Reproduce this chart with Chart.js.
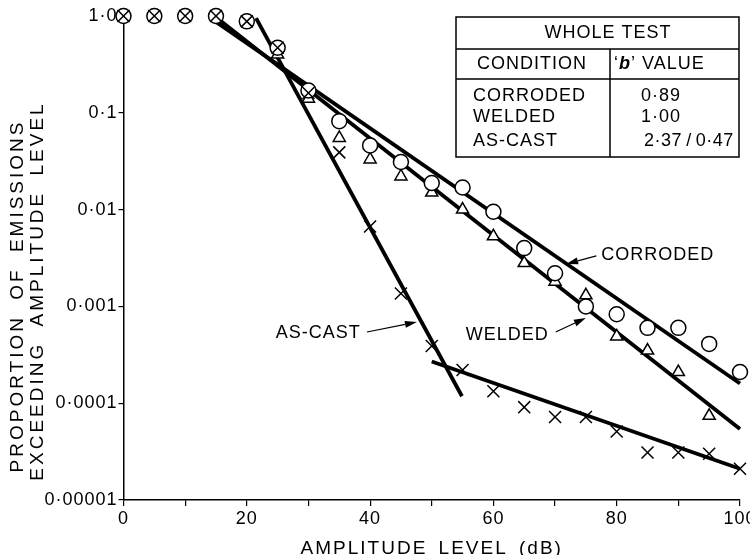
<!DOCTYPE html>
<html><head><meta charset="utf-8">
<script src="https://cdn.jsdelivr.net/npm/chart.js@4.4.1/dist/chart.umd.min.js"></script>
<style>html,body{margin:0;padding:0;background:#fff;}#wrap{width:750px;height:555px;}</style>
</head><body><div id="wrap"><canvas id="c" width="750" height="555"></canvas></div>
<script>
// ---- data ----
const amplitude = [0,5,10,15,20,25,30,35,40,45,50,55,60,65,70,75,80,85,90,95,100];
const corroded = [1,1,1,1,0.88,0.47,0.17,0.082,0.046,0.031,0.0188,0.0169,0.0095,0.0040,0.0022,0.0010,0.00083,0.0006,0.0006,0.00041,0.00021];
const welded   = [1,1,1,1,0.88,0.40,0.14,0.055,0.033,0.022,0.015,0.010,0.0053,0.0028,0.0018,0.0013,0.00049,0.00035,0.00021,0.000074,null];
const asCast   = [1,1,1,1,0.88,0.47,0.16,0.039,0.0067,0.00136,0.00039,0.00022,0.000133,0.000091,0.000072,0.000072,0.000051,0.000031,0.000031,0.00003,0.000021];

const corrodedFitX = [15,100], corrodedFitY = [0.87,0.00016];
const weldedFitX   = [15,100], weldedFitY   = [0.97,0.000054];
const asCastFit1X  = [21.5,54.9], asCastFit1Y = [0.95,0.000118];
const asCastFit2X  = [50,100], asCastFit2Y = [0.00027,0.000021];

const xTickValues = [0,10,20,30,40,50,60,70,80,90,100];
const xTickLabels = ['0','','20','','40','','60','','80','','100'];
const yTickValues = [0.00001,0.0001,0.001,0.01,0.1,1];
const yTickLabels = ['0·00001','0·0001','0·001','0·01','0·1','1·0'];

const xTitle = 'AMPLITUDE LEVEL (dB)';
const yTitle = ['PROPORTION OF EMISSIONS','EXCEEDING AMPLITUDE LEVEL'];

const annText  = ['CORRODED','WELDED','AS-CAST'];
const annX     = [77.5,55.5,38.5];
const annY     = [0.00343,0.000507,0.000531];
const annAlign = ['left','left','right'];
const arrowFromX = [76.7,70.1,39.5], arrowFromY = [0.00332,0.000544,0.000544];
const arrowToX   = [71.8,75.0,47.6], arrowToY   = [0.00274,0.000759,0.00069];

const tableTitle = 'WHOLE TEST';
const tableHead = ['CONDITION',' VALUE'];
const tableConditions = ['CORRODED','WELDED','AS-CAST'];
const tableValues = ['0·89','1·00','2·37\u2009/\u20090·47'];

// ---- helpers ----
const pts = ys => amplitude.map((x,i)=>({x, y: ys[i]})).filter(p=>p.y!=null);
const fit = (xs,ys) => xs.map((x,i)=>({x, y: ys[i]}));
const FONT = '"Liberation Sans", Arial, sans-serif';

const lineDs = (d) => ({data:d, showLine:true, borderColor:'#000', borderWidth:3.8, pointRadius:0, order:10, clip:false, borderCapStyle:'butt'});

const annotPlugin = {
  id:'annot',
  beforeDraw(chart){ chart.ctx.letterSpacing = '1px'; },
  afterDraw(chart){
    const {ctx, scales:{x,y}} = chart;
    ctx.save();
    ctx.fillStyle='#000'; ctx.strokeStyle='#000';
    // annotations
    ctx.font = '18px '+FONT;
    ctx.letterSpacing = '1px';
    ctx.textBaseline='middle';
    annText.forEach((t,i)=>{
      ctx.textAlign = annAlign[i];
      ctx.fillText(t, x.getPixelForValue(annX[i]), y.getPixelForValue(annY[i]));
      const x1=x.getPixelForValue(arrowFromX[i]), y1=y.getPixelForValue(arrowFromY[i]);
      const x2=x.getPixelForValue(arrowToX[i]), y2=y.getPixelForValue(arrowToY[i]);
      const a=Math.atan2(y2-y1,x2-x1), L=12, W=3.5;
      ctx.lineWidth=1.2;
      ctx.beginPath(); ctx.moveTo(x1,y1); ctx.lineTo(x2-L*Math.cos(a),y2-L*Math.sin(a)); ctx.stroke();
      ctx.beginPath(); ctx.moveTo(x2,y2);
      ctx.lineTo(x2-L*Math.cos(a)+W*Math.sin(a), y2-L*Math.sin(a)-W*Math.cos(a));
      ctx.lineTo(x2-L*Math.cos(a)-W*Math.sin(a), y2-L*Math.sin(a)+W*Math.cos(a));
      ctx.closePath(); ctx.fill();
    });
    // table
    const ca = chart.chartArea;
    const tx = ca.right-284, ty = ca.top+1, tw = 283, th = 140;
    const colX = tx+154, r1 = ty+32, r2 = ty+62;
    ctx.lineWidth = 1.5;
    ctx.strokeRect(tx,ty,tw,th);
    ctx.beginPath(); ctx.moveTo(tx,r1); ctx.lineTo(tx+tw,r1);
    ctx.moveTo(tx,r2); ctx.lineTo(tx+tw,r2);
    ctx.moveTo(colX,r1); ctx.lineTo(colX,ty+th); ctx.stroke();
    ctx.textAlign='center';
    ctx.fillText(tableTitle, tx+152, ty+16);
    ctx.textAlign='left';
    ctx.fillText(tableHead[0], tx+21, ty+47);
    // 'b' VALUE header
    let hx = colX+4;
    ctx.fillText('‘', hx, ty+47); hx += ctx.measureText('‘').width;
    ctx.font = 'italic bold 18px '+FONT;
    ctx.fillText('b', hx, ty+47); hx += ctx.measureText('b').width;
    ctx.font = '18px '+FONT;
    ctx.fillText('’'+tableHead[1], hx, ty+47);
    const rowY = [ty+79, ty+100, ty+124];
    tableConditions.forEach((t,i)=>{
      ctx.textAlign='left';
      ctx.letterSpacing = '1px';
      ctx.fillText(t, tx+17, rowY[i]);
      if (i<2) { ctx.textAlign='center'; ctx.fillText(tableValues[i], colX+51, rowY[i]); }
      else { ctx.letterSpacing='0.5px'; ctx.fillText(tableValues[i], colX+34, rowY[i]); }
    });
    // axis titles
    ctx.font = '19px '+FONT;
    ctx.letterSpacing = '2px'; ctx.wordSpacing = '4px';
    ctx.textAlign='center'; ctx.textBaseline='alphabetic';
    ctx.fillText(xTitle, (ca.left+ca.right)/2 - 0, 554);
    ctx.letterSpacing = '3px'; ctx.wordSpacing = '7px';
    ctx.textBaseline='middle';
    [[18,296],[38,291]].forEach((p,i)=>{
      ctx.save(); ctx.translate(p[0],p[1]); ctx.rotate(-Math.PI/2);
      ctx.fillText(yTitle[i],0,0); ctx.restore();
    });
    ctx.restore();
  }
};

new Chart(document.getElementById('c'), {
  type:'scatter',
  data:{datasets:[
    lineDs(fit(corrodedFitX,corrodedFitY)),
    lineDs(fit(weldedFitX,weldedFitY)),
    lineDs(fit(asCastFit1X,asCastFit1Y)),
    lineDs(fit(asCastFit2X,asCastFit2Y)),
    {label:'WELDED', data:pts(welded), pointStyle:'triangle', pointRadius:7, borderColor:'#000', backgroundColor:'#fff', borderWidth:1.5, order:3, clip:false},
    {label:'CORRODED', data:pts(corroded), pointStyle:'circle', pointRadius:7.5, borderColor:'#000', backgroundColor:'#fff', borderWidth:1.5, order:2, clip:false},
    {label:'AS-CAST', data:pts(asCast), pointStyle:'crossRot', pointRadius:8.5, borderColor:'#000', backgroundColor:'#fff', borderWidth:1.5, order:1, clip:false}
  ]},
  options:{
    responsive:false, animation:false, events:[],
    layout:{padding:{top:16,right:8,left:0,bottom:0}},
    plugins:{legend:{display:false}, tooltip:{enabled:false}},
    scales:{
      x:{type:'linear', min:0, max:100,
        afterBuildTicks:s=>{s.ticks = xTickValues.map(v=>({value:v}));},
        afterFit:s=>{s.height=55; s.paddingLeft=0; s.paddingRight=0;},
        ticks:{autoSkip:false, maxRotation:0, color:'#000', padding:2, font:{family:FONT,size:18},
          callback:(v)=>xTickLabels[xTickValues.indexOf(v)]},
        grid:{drawOnChartArea:false, drawTicks:true, tickLength:6, color:'#000', lineWidth:1.2},
        border:{display:true, color:'#000', width:1.5}
      },
      y:{type:'logarithmic', min:0.00001, max:1,
        afterBuildTicks:s=>{s.ticks = yTickValues.map(v=>({value:v}));},
        afterFit:s=>{s.width=123.5; s.paddingTop=0; s.paddingBottom=0;},
        ticks:{autoSkip:false, color:'#000', padding:1, font:{family:FONT,size:18},
          callback:(v)=>yTickLabels[yTickValues.indexOf(v)]},
        grid:{drawOnChartArea:false, drawTicks:true, tickLength:5, color:'#000', lineWidth:1.2},
        border:{display:true, color:'#000', width:1.5}
      }
    }
  },
  plugins:[annotPlugin]
});
</script></body></html>
